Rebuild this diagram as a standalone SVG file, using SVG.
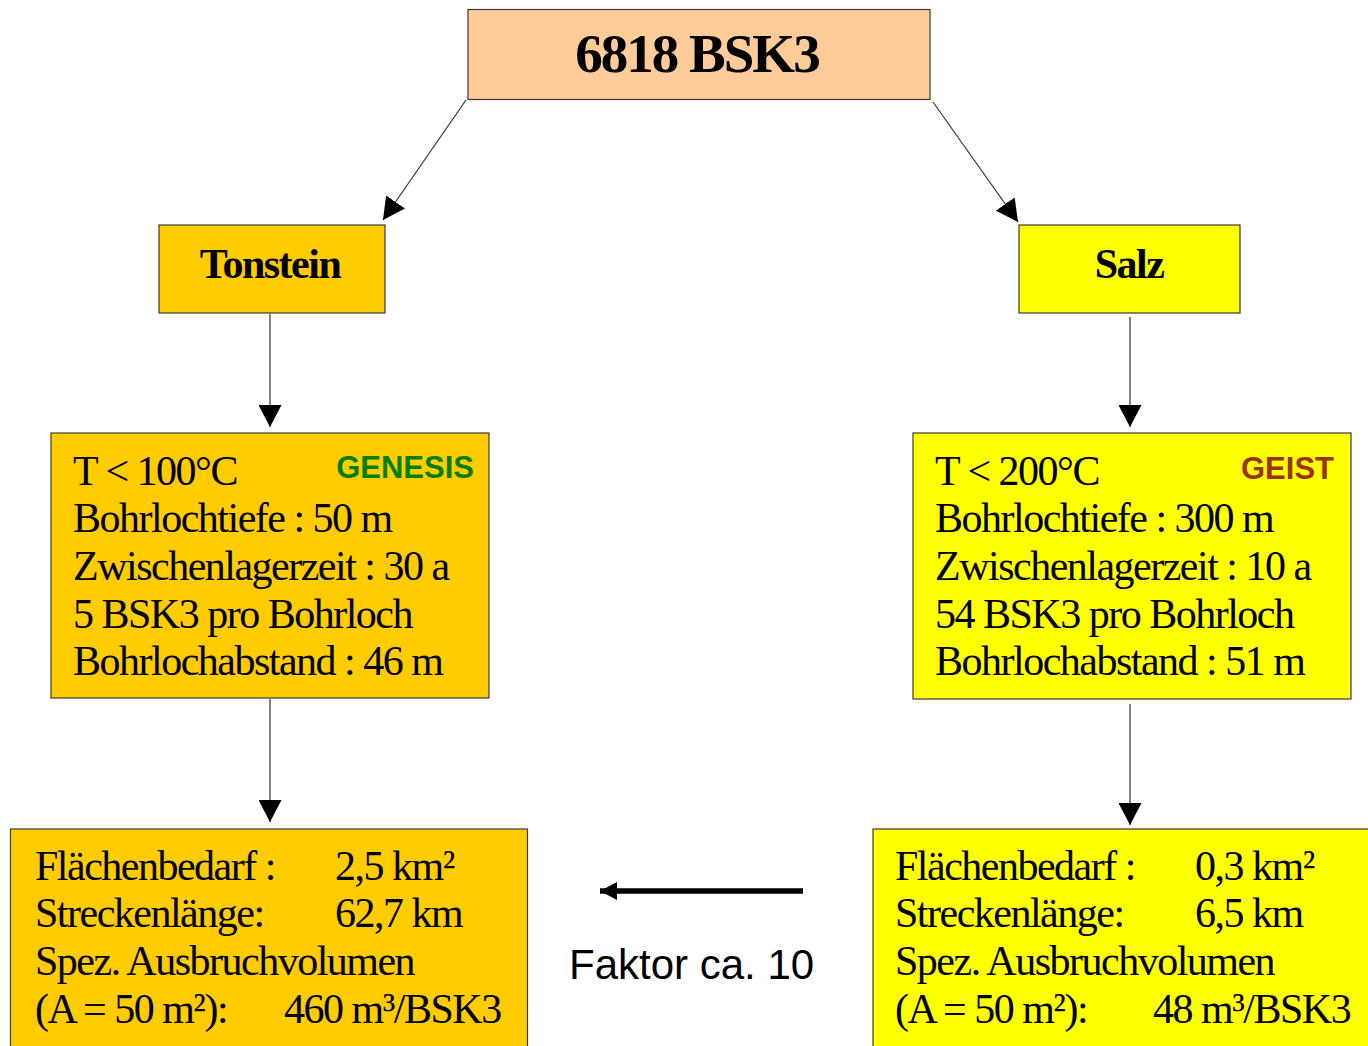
<svg xmlns="http://www.w3.org/2000/svg" width="1368" height="1046" viewBox="0 0 1368 1046">
  <style>
    .box { stroke: #3a3a3a; stroke-width: 1.2; }
    .peach { fill: #FFCC99; }
    .orange { fill: #FFCC00; }
    .yellow { fill: #FFFF00; }
    .title { font-family: "Liberation Serif", "Times New Roman", serif; font-weight: bold; fill: #000; }
    .body { font-family: "Liberation Serif", "Times New Roman", serif; font-size: 42px; letter-spacing: -1.5px; fill: #000; }
    .tag { font-family: "Liberation Sans", Arial, sans-serif; font-weight: bold; font-size: 31px; }
    .note { font-family: "Liberation Sans", Arial, sans-serif; font-size: 42px; fill: #000; }
    .conn { stroke: #333; stroke-width: 1.2; fill: none; }
  </style>
  <defs>
    <marker id="head" viewBox="0 0 22 23" markerWidth="22" markerHeight="23" refX="22" refY="11.5" orient="auto" markerUnits="userSpaceOnUse">
      <path d="M0,0 L22,11.5 L0,23 z" fill="#000"/>
    </marker>
    <marker id="headBold" viewBox="0 0 17 18" markerWidth="17" markerHeight="18" refX="17" refY="9" orient="auto" markerUnits="userSpaceOnUse">
      <path d="M0,0 L17,9 L0,18 z" fill="#000"/>
    </marker>
  </defs>

  <rect width="1368" height="1046" fill="#fff"/>

  <!-- connectors -->
  <g id="connectors">
    <line class="conn" x1="466" y1="100" x2="383" y2="220" marker-end="url(#head)"/>
    <line class="conn" x1="933" y1="102" x2="1018" y2="222" marker-end="url(#head)"/>
    <line class="conn" x1="270" y1="314" x2="270" y2="427" marker-end="url(#head)"/>
    <line class="conn" x1="1130" y1="317" x2="1130" y2="427" marker-end="url(#head)"/>
    <line class="conn" x1="270" y1="699" x2="270" y2="822" marker-end="url(#head)"/>
    <line class="conn" x1="1130" y1="704" x2="1130" y2="825" marker-end="url(#head)"/>
    <line x1="803" y1="891" x2="600" y2="891" stroke="#000" stroke-width="5.5" marker-end="url(#headBold)"/>
  </g>

  <!-- root -->
  <g id="root">
    <rect class="box peach" x="468" y="9.5" width="462" height="90"/>
    <text class="title" x="697" y="72" font-size="55" letter-spacing="-2" text-anchor="middle">6818 BSK3</text>
  </g>

  <!-- host rock branches -->
  <g id="tonstein">
    <rect class="box orange" x="159" y="225" width="226" height="88"/>
    <text class="title" x="270" y="278" font-size="42" letter-spacing="-1.5" text-anchor="middle">Tonstein</text>
  </g>
  <g id="salz">
    <rect class="box yellow" x="1019" y="225" width="221" height="88"/>
    <text class="title" x="1129" y="278" font-size="42" letter-spacing="-1.5" text-anchor="middle">Salz</text>
  </g>

  <!-- borehole parameters -->
  <g id="tonstein-params">
    <rect class="box orange" x="51" y="433" width="438" height="265"/>
    <text class="tag" x="474" y="478" fill="#008000" text-anchor="end">GENESIS</text>
    <text class="body" x="73" y="485">T &lt; 100°C</text>
    <text class="body" x="73" y="532">Bohrlochtiefe : 50 m</text>
    <text class="body" x="73" y="580">Zwischenlagerzeit : 30 a</text>
    <text class="body" x="73" y="628">5 BSK3 pro Bohrloch</text>
    <text class="body" x="73" y="675">Bohrlochabstand : 46 m</text>
  </g>
  <g id="salz-params">
    <rect class="box yellow" x="913" y="433" width="438" height="266"/>
    <text class="tag" x="1334" y="479" fill="#993300" text-anchor="end">GEIST</text>
    <text class="body" x="935" y="485">T &lt; 200°C</text>
    <text class="body" x="935" y="532">Bohrlochtiefe : 300 m</text>
    <text class="body" x="935" y="580">Zwischenlagerzeit : 10 a</text>
    <text class="body" x="935" y="628">54 BSK3 pro Bohrloch</text>
    <text class="body" x="935" y="675">Bohrlochabstand : 51 m</text>
  </g>

  <!-- resulting requirements -->
  <g id="tonstein-result">
    <rect class="box orange" x="10.5" y="829" width="517" height="230"/>
    <text class="body" x="35" y="880">Flächenbedarf :</text>
    <text class="body" x="335" y="880">2,5 km²</text>
    <text class="body" x="35" y="927">Streckenlänge:</text>
    <text class="body" x="335" y="927">62,7 km</text>
    <text class="body" x="35" y="975">Spez. Ausbruchvolumen</text>
    <text class="body" x="35" y="1023">(A = 50 m²):</text>
    <text class="body" x="284" y="1023">460 m³/BSK3</text>
  </g>
  <g id="salz-result">
    <rect class="box yellow" x="873" y="829" width="510" height="230"/>
    <text class="body" x="895" y="880">Flächenbedarf :</text>
    <text class="body" x="1195" y="880">0,3 km²</text>
    <text class="body" x="895" y="927">Streckenlänge:</text>
    <text class="body" x="1195" y="927">6,5 km</text>
    <text class="body" x="895" y="975">Spez. Ausbruchvolumen</text>
    <text class="body" x="895" y="1023">(A = 50 m²):</text>
    <text class="body" x="1153" y="1023">48 m³/BSK3</text>
  </g>

  <g id="factor-label">
    <text class="note" x="569" y="979">Faktor ca. 10</text>
  </g>
</svg>
